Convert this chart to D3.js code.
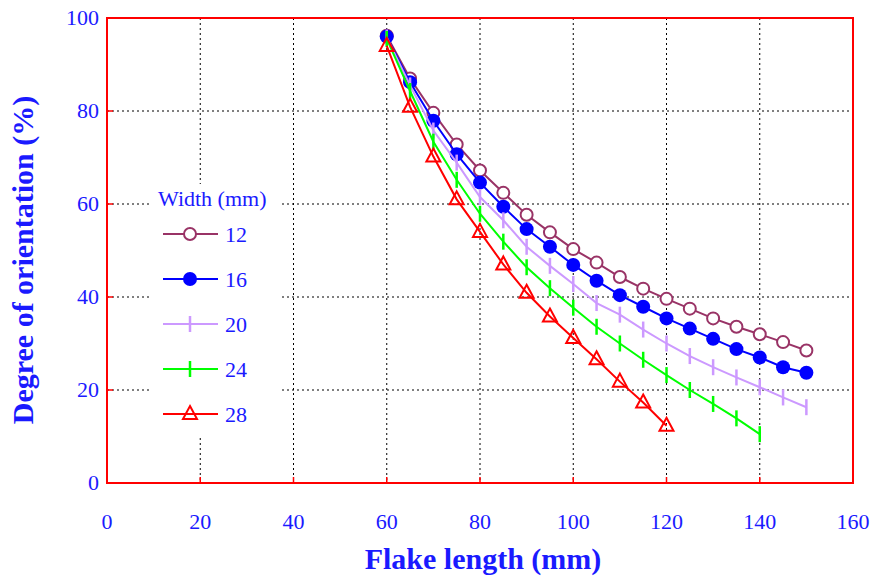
<!DOCTYPE html>
<html lang="en">
<head>
<meta charset="utf-8">
<title>Degree of orientation</title>
<script src="https://d3js.org/d3.v7.min.js"></script>
<style>
  body { margin: 0; background: #fff; }
  svg { display: block; font-family: "Liberation Serif", "DejaVu Serif", serif; }
</style>
</head>
<body>
<svg id="chart" width="878" height="578"></svg>
<script>
// data
var lengths = [60, 65, 70, 75, 80, 85, 90, 95, 100, 105, 110, 115, 120, 125, 130, 135, 140, 145, 150];
var widths = ["12", "16", "20", "24", "28"];
var w12 = [96.2, 87.0, 79.6, 72.8, 67.2, 62.4, 57.7, 53.9, 50.3, 47.4, 44.3, 41.8, 39.6, 37.5, 35.4, 33.6, 32.0, 30.3, 28.5];
var w16 = [96.0, 86.2, 77.9, 70.7, 64.6, 59.4, 54.6, 50.8, 46.9, 43.5, 40.4, 37.9, 35.4, 33.2, 31.0, 28.8, 27.0, 24.9, 23.7];
var w20 = [95.8, 85.5, 75.8, 68.9, 61.5, 56.5, 50.8, 46.7, 42.8, 38.7, 36.2, 33.0, 30.0, 27.3, 24.9, 22.7, 20.6, 18.4, 16.3];
var w24 = [95.5, 84.3, 73.4, 65.2, 57.9, 51.9, 46.4, 41.9, 37.7, 33.6, 30.0, 26.5, 23.2, 20.0, 17.0, 13.9, 10.5];
var w28 = [94.0, 80.9, 70.2, 61.0, 54.0, 47.0, 40.9, 35.8, 31.2, 26.6, 21.8, 17.3, 12.3];
var xTicks = [0, 20, 40, 60, 80, 100, 120, 140, 160];
var yTicks = [0, 20, 40, 60, 80, 100];

var series = [
  {name: widths[0], vals: w12, color: "#993366", mark: "circle"},
  {name: widths[1], vals: w16, color: "#0000ff", mark: "dot"},
  {name: widths[2], vals: w20, color: "#cc99ff", mark: "tick"},
  {name: widths[3], vals: w24, color: "#00ff00", mark: "tick"},
  {name: widths[4], vals: w28, color: "#ff0000", mark: "triangle"}
];

var pLeft = 107, pRight = 853, pTop = 18, pBottom = 483;
var x = d3.scaleLinear().domain([0, 160]).range([pLeft, pRight]);
var y = d3.scaleLinear().domain([0, 100]).range([pBottom, pTop]);

var svg = d3.select("#chart");
var textBlue = "#1a1aff";

// grid
svg.append("g").selectAll("line").data(xTicks.slice(1, -1)).join("line")
  .attr("x1", d => x(d)).attr("x2", d => x(d)).attr("y1", pTop).attr("y2", pBottom)
  .attr("stroke", "#000").attr("stroke-width", 1).attr("stroke-dasharray", "2,3");
svg.append("g").selectAll("line").data(yTicks.slice(1, -1)).join("line")
  .attr("x1", pLeft).attr("x2", pRight).attr("y1", d => y(d)).attr("y2", d => y(d))
  .attr("stroke", "#000").attr("stroke-width", 1).attr("stroke-dasharray", "2,3");

// inward red ticks
svg.append("g").selectAll("line").data(xTicks.slice(1, -1)).join("line")
  .attr("x1", d => x(d)).attr("x2", d => x(d)).attr("y1", pBottom).attr("y2", pBottom - 6)
  .attr("stroke", "#ff0000").attr("stroke-width", 1.5);
svg.append("g").selectAll("line").data(yTicks.slice(1, -1)).join("line")
  .attr("x1", pLeft).attr("x2", pLeft + 6).attr("y1", d => y(d)).attr("y2", d => y(d))
  .attr("stroke", "#ff0000").attr("stroke-width", 1.5);

// tick labels
svg.append("g").selectAll("text").data(xTicks).join("text")
  .attr("x", d => x(d)).attr("y", pBottom + 46)
  .attr("text-anchor", "middle").attr("font-size", 22).attr("fill", textBlue)
  .text(d => d);
svg.append("g").selectAll("text").data(yTicks).join("text")
  .attr("x", pLeft - 8).attr("y", d => y(d) + 7)
  .attr("text-anchor", "end").attr("font-size", 22).attr("fill", textBlue)
  .text(d => d);

// axis titles
svg.append("text")
  .attr("x", 483).attr("y", 569)
  .attr("text-anchor", "middle").attr("font-size", 30).attr("font-weight", "bold")
  .attr("fill", textBlue).text("Flake length (mm)");
svg.append("text")
  .attr("transform", "translate(33,260) rotate(-90)")
  .attr("text-anchor", "middle").attr("font-size", 30).attr("font-weight", "bold")
  .attr("fill", textBlue).text("Degree of orientation (%)");

// legend box (white, hides grid)
var lg = svg.append("g");
lg.append("rect").attr("x", 150).attr("y", 184).attr("width", 132).attr("height", 252).attr("fill", "#fff");

function drawMark(g, s, cx, cy) {
  if (s.mark === "circle") {
    g.append("circle").attr("cx", cx).attr("cy", cy).attr("r", 6)
      .attr("fill", "#fff").attr("stroke", s.color).attr("stroke-width", 2);
  } else if (s.mark === "dot") {
    g.append("circle").attr("cx", cx).attr("cy", cy).attr("r", 7).attr("fill", s.color);
  } else if (s.mark === "tick") {
    g.append("line").attr("x1", cx).attr("x2", cx).attr("y1", cy - 8).attr("y2", cy + 8)
      .attr("stroke", s.color).attr("stroke-width", 2.5);
  } else {
    g.append("path").attr("d", "M" + cx + "," + (cy - 8) + "L" + (cx + 7) + "," + (cy + 5) + "L" + (cx - 7) + "," + (cy + 5) + "Z")
      .attr("fill", "none").attr("stroke", s.color).attr("stroke-width", 2);
  }
}

// series
var line = d3.line().x(d => x(d[0])).y(d => y(d[1]));
series.forEach(function(s) {
  var pts = s.vals.map((v, i) => [lengths[i], v]);
  var g = svg.append("g");
  g.append("path").datum(pts).attr("d", line)
    .attr("fill", "none").attr("stroke", s.color).attr("stroke-width", 2);
  pts.forEach(p => drawMark(g, s, x(p[0]), y(p[1])));
});

// legend entries
lg.append("text").attr("x", 158).attr("y", 206).attr("font-size", 22)
  .attr("fill", textBlue).text("Width (mm)");
series.forEach(function(s, i) {
  var ly = 234 + i * 45;
  lg.append("line").attr("x1", 163).attr("x2", 218).attr("y1", ly).attr("y2", ly)
    .attr("stroke", s.color).attr("stroke-width", 2);
  drawMark(lg, s, 190, ly);
  lg.append("text").attr("x", 225).attr("y", ly + 8).attr("font-size", 22)
    .attr("fill", textBlue).text(s.name);
});

// frame
svg.append("rect").attr("x", pLeft).attr("y", pTop).attr("width", pRight - pLeft).attr("height", pBottom - pTop)
  .attr("fill", "none").attr("stroke", "#ff0000").attr("stroke-width", 2);
</script>
</body>
</html>
